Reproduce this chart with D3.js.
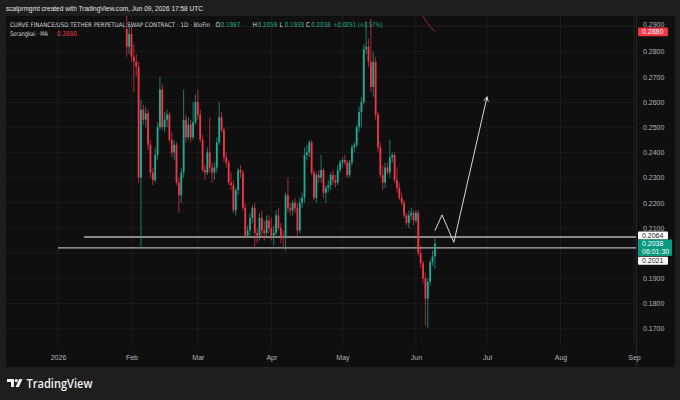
<!DOCTYPE html>
<html>
<head>
<meta charset="utf-8">
<script src="https://cdn.jsdelivr.net/npm/d3@7"></script>
<style>
  body { margin: 0; background: #1e1e1e; }
  svg { display: block; }
</style>
</head>
<body>
<div id="chart"></div>
<script>
// daily candles, first one is 2026-01-30, last one 2026-06-09
let firstDay = '2026-01-30';
let opens = [
  0.2890, 0.2820, 0.2870, 0.2780, 0.2760, 0.2740, 0.2300, 0.2570, 0.2530, 0.2555,
  0.2430, 0.2320, 0.2290, 0.2390, 0.2500, 0.2650, 0.2500, 0.2530, 0.2550, 0.2450,
  0.2400, 0.2430, 0.2280, 0.2230, 0.2320, 0.2530, 0.2460, 0.2510, 0.2460, 0.2520,
  0.2600, 0.2550, 0.2450, 0.2330, 0.2320, 0.2400, 0.2340, 0.2320, 0.2340, 0.2440,
  0.2540, 0.2490, 0.2380, 0.2360, 0.2280, 0.2270, 0.2170, 0.2250, 0.2330, 0.2320,
  0.2180, 0.2070, 0.2090, 0.2140, 0.2180, 0.2080, 0.2070, 0.2140, 0.2090, 0.2080,
  0.2130, 0.2100, 0.2070, 0.2080, 0.2150, 0.2100, 0.2070, 0.2060, 0.2230, 0.2180,
  0.2170, 0.2200, 0.2180, 0.2090, 0.2200, 0.2220, 0.2390, 0.2400, 0.2440, 0.2320,
  0.2220, 0.2310, 0.2300, 0.2330, 0.2240, 0.2260, 0.2270, 0.2310, 0.2290, 0.2280,
  0.2330, 0.2360, 0.2370, 0.2360, 0.2310, 0.2360, 0.2420, 0.2430, 0.2500, 0.2560,
  0.2600, 0.2810, 0.2820, 0.2760, 0.2660, 0.2760, 0.2550, 0.2420, 0.2310, 0.2280,
  0.2340, 0.2320, 0.2380, 0.2390, 0.2290, 0.2260, 0.2220, 0.2200, 0.2150, 0.2120,
  0.2150, 0.2160, 0.2130, 0.2160, 0.2000, 0.1960, 0.1900, 0.1820, 0.1886, 0.1965,
  0.1987
];
let highs = [
  0.2960, 0.2910, 0.2900, 0.2830, 0.2790, 0.2760, 0.2610, 0.2590, 0.2580, 0.2570,
  0.2450, 0.2340, 0.2420, 0.2520, 0.2700, 0.2670, 0.2560, 0.2570, 0.2560, 0.2480,
  0.2450, 0.2440, 0.2300, 0.2340, 0.2650, 0.2550, 0.2540, 0.2530, 0.2600, 0.2630,
  0.2650, 0.2570, 0.2470, 0.2350, 0.2420, 0.2540, 0.2360, 0.2360, 0.2460, 0.2600,
  0.2560, 0.2500, 0.2400, 0.2370, 0.2320, 0.2290, 0.2260, 0.2340, 0.2350, 0.2330,
  0.2200, 0.2110, 0.2160, 0.2190, 0.2200, 0.2100, 0.2160, 0.2170, 0.2130, 0.2150,
  0.2150, 0.2140, 0.2110, 0.2170, 0.2180, 0.2120, 0.2090, 0.2240, 0.2300, 0.2200,
  0.2210, 0.2220, 0.2200, 0.2220, 0.2240, 0.2420, 0.2430, 0.2450, 0.2450, 0.2330,
  0.2320, 0.2330, 0.2390, 0.2340, 0.2270, 0.2290, 0.2320, 0.2330, 0.2310, 0.2350,
  0.2370, 0.2380, 0.2390, 0.2370, 0.2370, 0.2430, 0.2440, 0.2510, 0.2580, 0.2620,
  0.2830, 0.2920, 0.2850, 0.2930, 0.2800, 0.2780, 0.2560, 0.2440, 0.2350, 0.2360,
  0.2360, 0.2450, 0.2400, 0.2400, 0.2340, 0.2280, 0.2240, 0.2210, 0.2160, 0.2170,
  0.2180, 0.2170, 0.2170, 0.2170, 0.2030, 0.1970, 0.1920, 0.1900, 0.1975, 0.2010,
  0.2059
];
let lows = [
  0.2780, 0.2790, 0.2760, 0.2640, 0.2700, 0.2280, 0.2020, 0.2510, 0.2500, 0.2410,
  0.2300, 0.2270, 0.2280, 0.2370, 0.2490, 0.2490, 0.2480, 0.2500, 0.2440, 0.2380,
  0.2370, 0.2270, 0.2160, 0.2200, 0.2300, 0.2440, 0.2450, 0.2440, 0.2450, 0.2510,
  0.2530, 0.2440, 0.2320, 0.2290, 0.2310, 0.2320, 0.2280, 0.2290, 0.2320, 0.2430,
  0.2480, 0.2360, 0.2340, 0.2270, 0.2250, 0.2160, 0.2150, 0.2230, 0.2300, 0.2170,
  0.2060, 0.2060, 0.2070, 0.2120, 0.2020, 0.2040, 0.2050, 0.2060, 0.2050, 0.2060,
  0.2080, 0.2050, 0.2030, 0.2070, 0.2090, 0.2040, 0.2020, 0.2010, 0.2160, 0.2150,
  0.2150, 0.2160, 0.2070, 0.2080, 0.2180, 0.2200, 0.2370, 0.2380, 0.2310, 0.2210,
  0.2200, 0.2280, 0.2280, 0.2220, 0.2200, 0.2240, 0.2250, 0.2270, 0.2260, 0.2270,
  0.2320, 0.2340, 0.2350, 0.2300, 0.2300, 0.2350, 0.2400, 0.2420, 0.2480, 0.2500,
  0.2590, 0.2790, 0.2740, 0.2640, 0.2620, 0.2530, 0.2400, 0.2300, 0.2250, 0.2260,
  0.2310, 0.2300, 0.2360, 0.2280, 0.2240, 0.2210, 0.2190, 0.2140, 0.2110, 0.2100,
  0.2130, 0.2110, 0.2120, 0.1990, 0.1940, 0.1880, 0.1710, 0.1703, 0.1870, 0.1950,
  0.1938
];
let closes = [
  0.2820, 0.2870, 0.2780, 0.2760, 0.2740, 0.2300, 0.2570, 0.2530, 0.2555, 0.2430,
  0.2320, 0.2290, 0.2390, 0.2500, 0.2650, 0.2500, 0.2530, 0.2550, 0.2450, 0.2400,
  0.2430, 0.2280, 0.2230, 0.2320, 0.2530, 0.2460, 0.2510, 0.2460, 0.2520, 0.2600,
  0.2550, 0.2450, 0.2330, 0.2320, 0.2400, 0.2340, 0.2320, 0.2340, 0.2440, 0.2540,
  0.2490, 0.2380, 0.2360, 0.2280, 0.2270, 0.2170, 0.2250, 0.2330, 0.2320, 0.2180,
  0.2070, 0.2090, 0.2140, 0.2180, 0.2080, 0.2070, 0.2140, 0.2090, 0.2080, 0.2130,
  0.2100, 0.2070, 0.2080, 0.2150, 0.2100, 0.2070, 0.2060, 0.2230, 0.2180, 0.2170,
  0.2200, 0.2180, 0.2090, 0.2200, 0.2220, 0.2390, 0.2400, 0.2440, 0.2320, 0.2220,
  0.2310, 0.2300, 0.2330, 0.2240, 0.2260, 0.2270, 0.2310, 0.2290, 0.2280, 0.2330,
  0.2360, 0.2370, 0.2360, 0.2310, 0.2360, 0.2420, 0.2430, 0.2500, 0.2560, 0.2600,
  0.2810, 0.2820, 0.2760, 0.2660, 0.2760, 0.2550, 0.2420, 0.2310, 0.2280, 0.2340,
  0.2320, 0.2380, 0.2390, 0.2290, 0.2260, 0.2220, 0.2200, 0.2150, 0.2120, 0.2150,
  0.2160, 0.2130, 0.2160, 0.2000, 0.1960, 0.1900, 0.1820, 0.1886, 0.1965, 0.1987,
  0.2038
];

// "Serangkai - MA" tail that comes down into view at the top right
let maDays = ['2026-05-31', '2026-06-01', '2026-06-02', '2026-06-03', '2026-06-04', '2026-06-05', '2026-06-06', '2026-06-07', '2026-06-08', '2026-06-09'];
let maValues = [0.3035, 0.3010, 0.2985, 0.2960, 0.2940, 0.2925, 0.2912, 0.2900, 0.2890, 0.2880];

// the two drawn horizontal levels
let levelPrices = [0.2064, 0.2021];
let levelStarts = ['2026-01-12', '2026-01-01'];

// the hand drawn zig-zag projection
let arrowDays = ['2026-06-09', '2026-06-12', '2026-06-17', '2026-07-01'];
let arrowPrices = [0.2089, 0.2152, 0.2043, 0.2621];

let priceTicks = [0.17, 0.18, 0.19, 0.20, 0.21, 0.22, 0.23, 0.24, 0.25, 0.26, 0.27, 0.28, 0.29];
// 0.2000 sits under the last price box, so it gets no label
let priceLabelTicks = [0.17, 0.18, 0.19, 0.21, 0.22, 0.23, 0.24, 0.25, 0.26, 0.27, 0.28, 0.29];
let monthTicks = ['2026-01-01', '2026-02-01', '2026-03-01', '2026-04-01', '2026-05-01', '2026-06-01', '2026-07-01', '2026-08-01', '2026-09-01'];
let monthLabels = ['2026', 'Feb', 'Mar', 'Apr', 'May', 'Jun', 'Jul', 'Aug', 'Sep'];

let W = 680, H = 400;
let upColor = '#22ab94', downColor = '#f23645';
let font = '"Liberation Sans", "DejaVu Sans", sans-serif';
let narrowFont = '"Liberation Sans Narrow", "DejaVu Sans Condensed", "Liberation Sans", sans-serif';
let parse = d3.timeParse('%Y-%m-%d');
let f4 = d3.format('.4f');

let plot = {left: 7, right: 636, top: 16, bottom: 347};

let svg = d3.select('#chart').append('svg').attr('width', W).attr('height', H)
  .style('font-family', font);

svg.append('rect').attr('width', W).attr('height', H).attr('fill', '#1e1e1e');
svg.append('rect').attr('x', 6).attr('y', 16).attr('width', 669).attr('height', 351).attr('fill', '#0f0f0f');

let x = d3.scaleTime()
  .domain([parse('2026-01-01'), parse('2026-09-01')])
  .range([58, 634]);
let y = d3.scaleLinear()
  .domain([0.17, 0.28])
  .range([328.7, 51.7]);

// grid
let grid = svg.append('g').attr('class', 'grid');
grid.selectAll('.hgrid').data(priceTicks).enter().append('line')
  .attr('x1', plot.left).attr('x2', plot.right)
  .attr('y1', d => y(d)).attr('y2', d => y(d))
  .attr('stroke', '#1c1c1c').attr('stroke-width', 1);
grid.selectAll('.vgrid').data(monthTicks).enter().append('line')
  .attr('x1', d => x(parse(d))).attr('x2', d => x(parse(d)))
  .attr('y1', plot.top).attr('y2', plot.bottom)
  .attr('stroke', '#1c1c1c').attr('stroke-width', 1);

// axis separator
svg.append('line').attr('x1', plot.right + 0.5).attr('x2', plot.right + 0.5)
  .attr('y1', plot.top).attr('y2', 367).attr('stroke', '#262626');

svg.append('clipPath').attr('id', 'plotclip').append('rect')
  .attr('x', plot.left).attr('y', plot.top)
  .attr('width', plot.right - plot.left).attr('height', plot.bottom - plot.top);

let rootContainer = svg.append('g').attr('clip-path', 'url(#plotclip)');

// levels
rootContainer.selectAll('.level').data(levelPrices).enter().append('line')
  .attr('class', 'level')
  .attr('x1', (d, i) => x(parse(levelStarts[i]))).attr('x2', plot.right)
  .attr('y1', d => y(d)).attr('y2', d => y(d))
  .attr('stroke', '#b4b4b4').attr('stroke-width', 1.4);

// candles
let candles = closes.map((c, i) => ({
  date: d3.timeDay.offset(parse(firstDay), i),
  o: opens[i], h: highs[i], l: lows[i], c: c
}));

let candleContainer = rootContainer.selectAll('.candle').data(candles).enter().append('g')
  .attr('class', 'candle')
  .attr('transform', d => 'translate(' + [x(d.date), 0] + ')');

candleContainer.append('line')
  .attr('x1', 0).attr('x2', 0)
  .attr('y1', d => y(d.h)).attr('y2', d => y(d.l))
  .attr('stroke', d => d.c >= d.o ? upColor : downColor)
  .attr('stroke-width', 0.7);

candleContainer.append('rect')
  .attr('x', -0.9).attr('width', 1.8)
  .attr('y', d => y(Math.max(d.o, d.c)))
  .attr('height', d => Math.max(0.8, Math.abs(y(d.o) - y(d.c))))
  .attr('fill', d => d.c >= d.o ? upColor : downColor);

// MA tail
let maLine = d3.line()
  .x((d, i) => x(parse(maDays[i])))
  .y(d => y(d));
rootContainer.append('path').datum(maValues)
  .attr('d', maLine)
  .attr('fill', 'none')
  .attr('stroke', '#a3253a')
  .attr('stroke-width', 1);

// projection arrow
let arrowPts = arrowDays.map((d, i) => [x(parse(d)), y(arrowPrices[i])]);
rootContainer.append('path')
  .attr('d', d3.line()(arrowPts))
  .attr('fill', 'none').attr('stroke', '#d8d8d8').attr('stroke-width', 1);
let tip = arrowPts[arrowPts.length - 1], prev = arrowPts[arrowPts.length - 2];
let ang = Math.atan2(prev[1] - tip[1], prev[0] - tip[0]);
[-0.45, 0.45].forEach(a => {
  rootContainer.append('line')
    .attr('x1', tip[0]).attr('y1', tip[1])
    .attr('x2', tip[0] + 5 * Math.cos(ang + a)).attr('y2', tip[1] + 5 * Math.sin(ang + a))
    .attr('stroke', '#d8d8d8').attr('stroke-width', 1);
});

// price axis
let yAxis = d3.axisRight(y).tickValues(priceLabelTicks).tickFormat(f4)
  .tickSize(0).tickPadding(6);
let yAxisG = svg.append('g').attr('class', 'yAxis')
  .attr('transform', 'translate(' + [plot.right + 1, 0] + ')')
  .call(yAxis);
yAxisG.select('.domain').remove();
yAxisG.selectAll('text').attr('fill', '#b2b5be').attr('font-size', 7).attr('font-family', font)
  .attr('dy', d => d > 0.285 ? '-0.05em' : '0.32em');

// time axis
let xAxis = d3.axisBottom(x).tickValues(monthTicks.map(parse))
  .tickFormat((d, i) => monthLabels[i]).tickSize(0).tickPadding(3);
let xAxisG = svg.append('g').attr('class', 'xAxis')
  .attr('transform', 'translate(' + [0, 352] + ')')
  .call(xAxis);
xAxisG.select('.domain').remove();
xAxisG.selectAll('text').attr('fill', '#b2b5be').attr('font-size', 7).attr('font-family', font);

// price labels on the axis
function axisLabel(py, h, bg, fg, lines, w) {
  let g = svg.append('g');
  g.append('rect').attr('x', plot.right + 2).attr('y', py).attr('width', w).attr('height', h)
    .attr('fill', bg).attr('rx', 1);
  lines.forEach((t, i) => {
    g.append('text').attr('x', plot.right + 6).attr('y', py + 6.6 + i * 7.8)
      .attr('font-size', 7).attr('fill', fg).text(t);
  });
}
let lastClose = closes[closes.length - 1];
let lastMa = maValues[maValues.length - 1];
axisLabel(y(lastMa) - 4, 8.6, '#f23645', '#ffffff', [f4(lastMa)], 30);
axisLabel(y(levelPrices[0]) - 5.6, 8, '#ffffff', '#131722', [f4(levelPrices[0])], 30);
axisLabel(y(lastClose) - 4.2, 16.5, '#089981', '#ffffff', [f4(lastClose), '06:01:30'], 34);
axisLabel(y(levelPrices[1]) + 8.8, 8, '#ffffff', '#131722', [f4(levelPrices[1])], 30);

// header texts
svg.append('text').attr('x', 6).attr('y', 11).attr('font-size', 7.5).attr('fill', '#e3e3e3')
  .attr('textLength', 197).attr('lengthAdjust', 'spacingAndGlyphs')
  .text('scalprmgmt created with TradingView.com, Jun 09, 2026 17:58 UTC');

svg.append('text').attr('x', 10).attr('y', 26.5).attr('font-size', 6.3).attr('fill', '#d1d4dc')
  .attr('font-family', narrowFont)
  .attr('textLength', 200).attr('lengthAdjust', 'spacingAndGlyphs')
  .text('CURVE FINANCE/USD TETHER PERPETUAL SWAP CONTRACT · 1D · BloFin');

let last = candles[candles.length - 1];
let prevClose = closes[closes.length - 2];
let change = last.c - prevClose;
let ohlcParts = [
  ['O', last.o, 215.5], ['H', last.h, 252.5], ['L', last.l, 279.5], ['C', last.c, 306]
];
ohlcParts.forEach(p => {
  svg.append('text').attr('x', p[2]).attr('y', 26.5).attr('font-size', 6.6)
    .attr('fill', '#d1d4dc').attr('font-family', narrowFont)
    .text(p[0]);
  svg.append('text').attr('x', p[2] + 5.3).attr('y', 26.5).attr('font-size', 6.6)
    .attr('fill', upColor).attr('font-family', narrowFont)
    .attr('textLength', 19.5).attr('lengthAdjust', 'spacingAndGlyphs')
    .text(f4(p[1]));
});
svg.append('text').attr('x', 333.5).attr('y', 26.5).attr('font-size', 6.6).attr('fill', upColor)
  .attr('font-family', narrowFont)
  .attr('textLength', 49).attr('lengthAdjust', 'spacingAndGlyphs')
  .text('+' + f4(change) + ' (+' + d3.format('.2f')(change / prevClose * 100) + '%)');

svg.append('text').attr('x', 10).attr('y', 36).attr('font-size', 6.6).attr('fill', '#d1d4dc')
  .attr('font-family', narrowFont)
  .attr('textLength', 38).attr('lengthAdjust', 'spacingAndGlyphs')
  .text('Serangkai · MA');
svg.append('text').attr('x', 57).attr('y', 36).attr('font-size', 6.6).attr('fill', '#f23645')
  .attr('font-family', narrowFont)
  .attr('textLength', 20).attr('lengthAdjust', 'spacingAndGlyphs')
  .text(f4(lastMa));

// TradingView logo
let logo = svg.append('g').attr('fill', '#f0f0f0');
logo.append('path').attr('d', 'M7,379 h7 v8 h-3 v-5 h-4 z');
logo.append('circle').attr('cx', 16.3).attr('cy', 380.6).attr('r', 1.6);
logo.append('path').attr('d', 'M19.2,379 h3.3 l-3.6,8 h-3.3 z');
svg.append('text').attr('x', 26.5).attr('y', 387.6).attr('font-size', 12).attr('font-weight', 600)
  .attr('fill', '#f0f0f0').attr('font-family', '"Open Sans", "Noto Sans", sans-serif')
  .attr('textLength', 66).attr('lengthAdjust', 'spacingAndGlyphs')
  .text('TradingView');
</script>
</body>
</html>
